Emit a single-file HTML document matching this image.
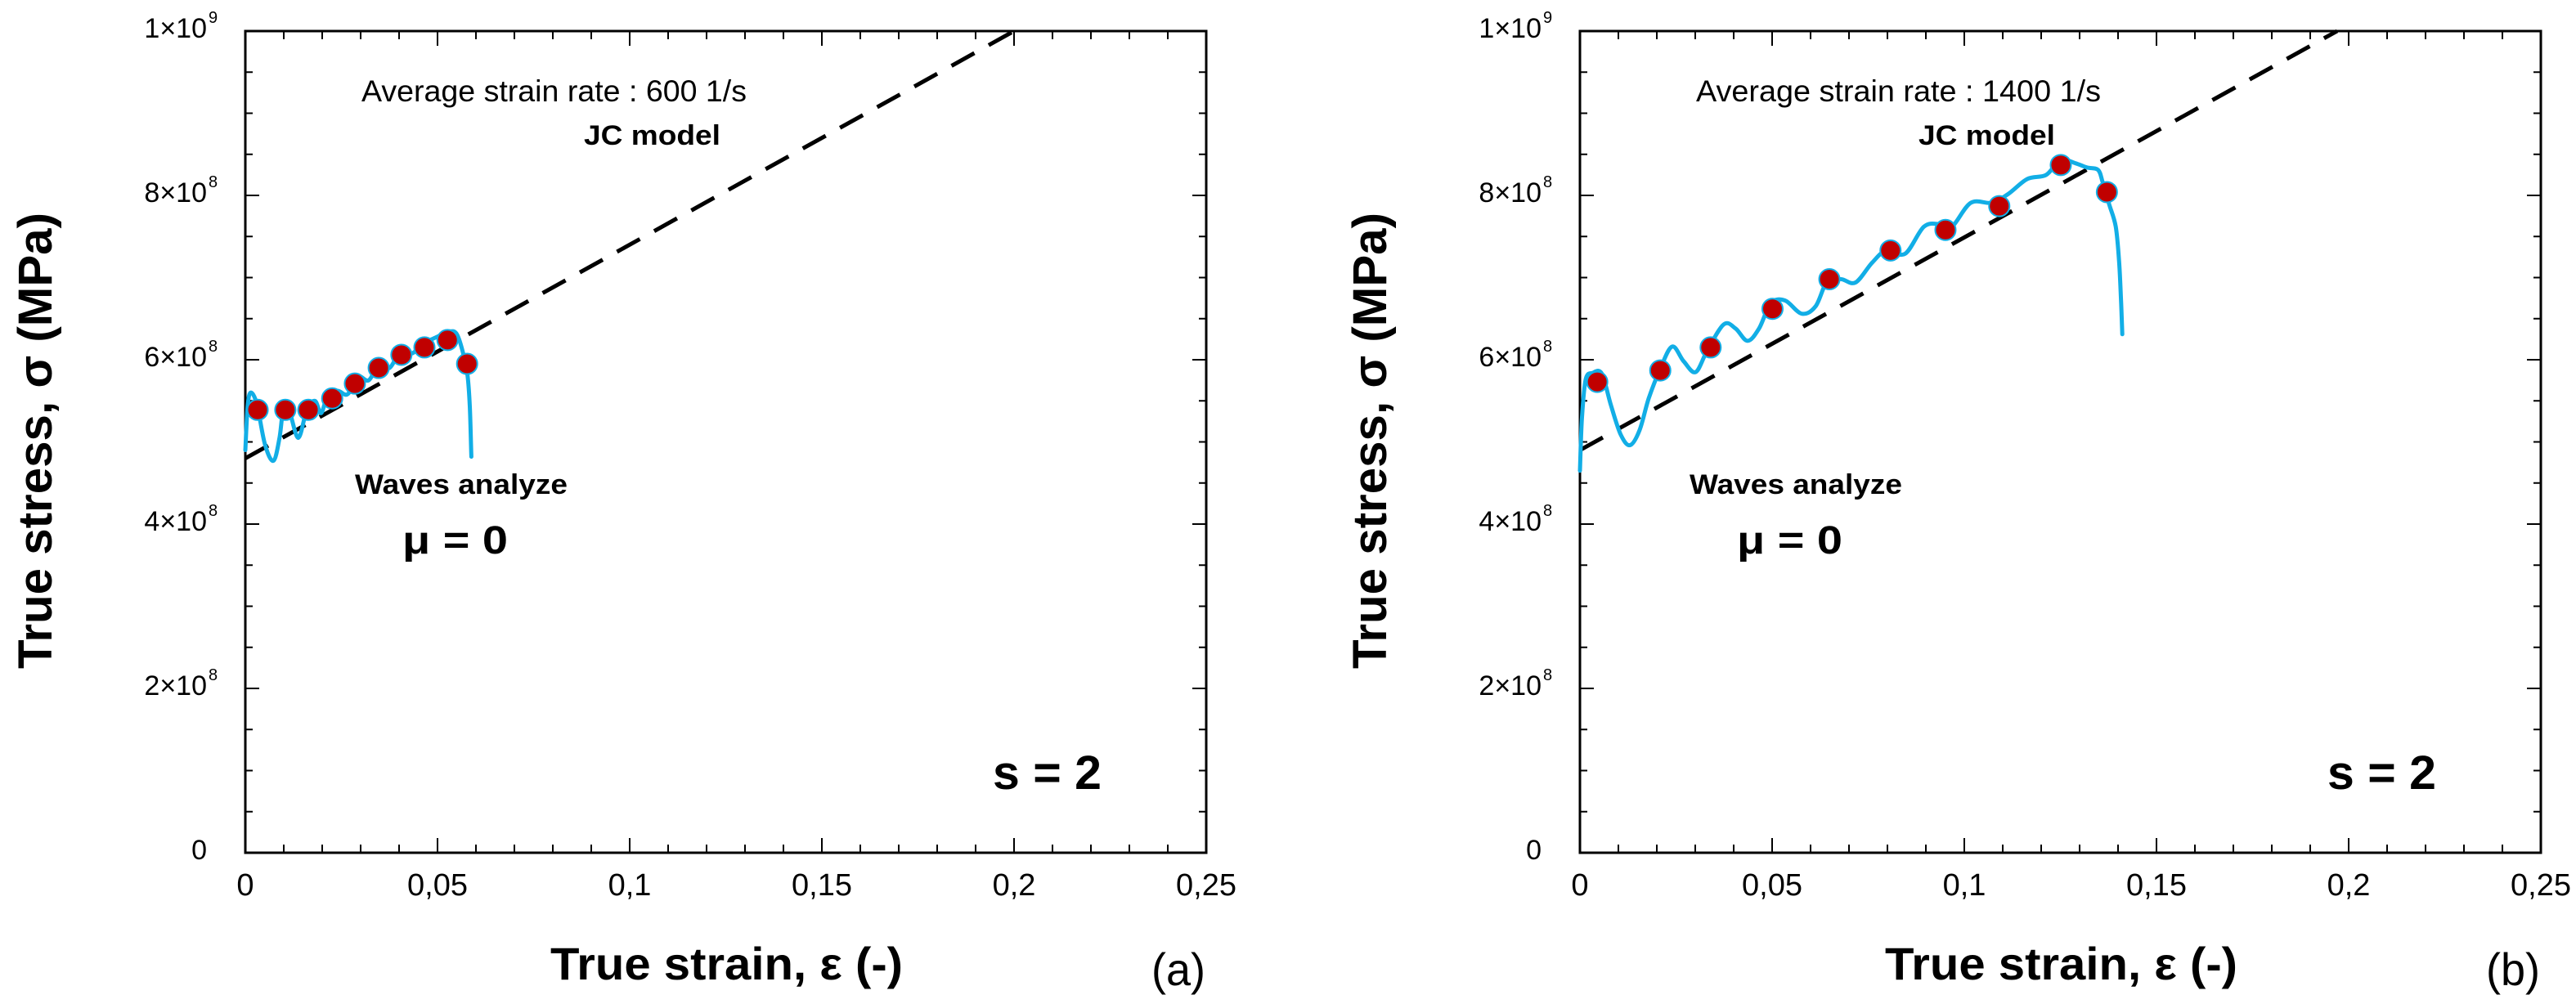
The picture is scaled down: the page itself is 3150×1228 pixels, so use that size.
<!DOCTYPE html>
<html><head><meta charset="utf-8"><style>
html,body{margin:0;padding:0;background:#fff;}
svg{display:block;}
text{font-family:"Liberation Sans Narrow","Liberation Sans",sans-serif;fill:#000;}
</style></head><body>
<svg id="fig" width="3150" height="1228" viewBox="0 0 3150 1228" xmlns="http://www.w3.org/2000/svg"></svg>
<script>
// ---- data (panel a: 600 1/s) ----
const curveAStrain=[0,0.0006,0.0014,0.003,0.0051,0.0073,0.0089,0.0100,0.0116,0.0138,0.0160,0.0181,0.0197,0.0213,0.024,0.0266,0.0294,0.0321,0.0348,0.0375,0.0402,0.0435,0.046,0.0495,0.0528,0.0549,0.0565,0.0578,0.0584,0.0588];
const curveAStress=[4.90e8,5.43e8,5.60e8,5.46e8,4.97e8,4.77e8,5.05e8,5.43e8,5.35e8,5.05e8,5.39e8,5.50e8,5.35e8,5.54e8,5.62e8,5.58e8,5.79e8,5.75e8,5.94e8,5.90e8,6.08e8,6.08e8,6.19e8,6.27e8,6.34e8,6.32e8,6.11e8,5.81e8,5.43e8,4.82e8];
const markAStrain=[0.0032,0.0104,0.0164,0.0226,0.0285,0.0347,0.0406,0.0466,0.0526,0.0577];
const markAStress=[5.39e8,5.39e8,5.39e8,5.53e8,5.71e8,5.90e8,6.06e8,6.15e8,6.24e8,5.95e8];
const jcAStrain=[0,0.2];
const jcAStress=[4.8e8,1.0e9];
// ---- data (panel b: 1400 1/s) ----
const curveBStrain=[0,0.0005,0.0015,0.0033,0.0057,0.0081,0.0106,0.013,0.0155,0.0179,0.0209,0.024,0.027,0.0301,0.0331,0.0374,0.0405,0.0436,0.0466,0.0497,0.0534,0.0577,0.0613,0.0644,0.068,0.0717,0.076,0.0797,0.0846,0.0895,0.0937,0.0968,0.1017,0.1072,0.1115,0.1164,0.1213,0.125,0.129,0.1319,0.1348,0.136,0.1377,0.1394,0.1403,0.1408,0.1411];
const curveBStress=[4.65e8,5.27e8,5.76e8,5.84e8,5.83e8,5.44e8,5.09e8,4.96e8,5.14e8,5.53e8,5.89e8,6.16e8,5.98e8,5.85e8,6.11e8,6.43e8,6.38e8,6.23e8,6.38e8,6.69e8,6.72e8,6.56e8,6.65e8,6.96e8,6.98e8,6.94e8,7.18e8,7.33e8,7.29e8,7.62e8,7.65e8,7.62e8,7.91e8,7.91e8,8.02e8,8.20e8,8.25e8,8.43e8,8.39e8,8.34e8,8.31e8,8.16e8,7.89e8,7.62e8,7.18e8,6.69e8,6.31e8];
const markBStrain=[0.0045,0.0209,0.034,0.0501,0.0649,0.0808,0.0951,0.1091,0.1251,0.1371];
const markBStress=[5.73e8,5.87e8,6.15e8,6.62e8,6.98e8,7.33e8,7.58e8,7.87e8,8.37e8,8.04e8];
const jcBStrain=[0,0.197];
const jcBStress=[4.9e8,1.0e9];
// ---- axes ----
const xTickValues=[0,0.05,0.1,0.15,0.2,0.25];
const xTickLabels=["0","0,05","0,1","0,15","0,2","0,25"];
const yTickValues=[0,2e8,4e8,6e8,8e8,1e9];
const yTickMain=["0","2×10","4×10","6×10","8×10","1×10"];
const yTickExp=["","8","8","8","8","9"];

const NS="http://www.w3.org/2000/svg";
const svg=document.getElementById('fig');
function mk(tag,attrs,parent){const e=document.createElementNS(NS,tag);for(const k in attrs)e.setAttribute(k,attrs[k]);(parent||svg).appendChild(e);return e;}

function smoothPath(pts){
  let d='M'+pts[0][0].toFixed(1)+' '+pts[0][1].toFixed(1);
  for(let i=0;i<pts.length-1;i++){
    const p0=pts[Math.max(0,i-1)],p1=pts[i],p2=pts[i+1],p3=pts[Math.min(pts.length-1,i+2)];
    const c1x=p1[0]+(p2[0]-p0[0])/6,c1y=p1[1]+(p2[1]-p0[1])/6;
    const c2x=p2[0]-(p3[0]-p1[0])/6,c2y=p2[1]-(p3[1]-p1[1])/6;
    d+=' C'+c1x.toFixed(1)+' '+c1y.toFixed(1)+' '+c2x.toFixed(1)+' '+c2y.toFixed(1)+' '+p2[0].toFixed(1)+' '+p2[1].toFixed(1);
  }
  return d;
}

function panel(id,dx,cs,cst,ms,mst,js,jst,rateText,rateW,letter){
  const L=300+dx,R=1475+dx,T=38,B=1043;
  const xs=v=>L+(v/0.25)*(R-L);
  const ys=v=>B-(v/1e9)*(B-T);
  const g=mk('g',{});
  
  
  for(let i=0;i<=25;i++){
    const x=xs(i*0.01);const len=(i%5===0)?18:10;
    mk('line',{x1:x,y1:B,x2:x,y2:B-len,stroke:'#000','stroke-width':2},g);
    mk('line',{x1:x,y1:T,x2:x,y2:T+len,stroke:'#000','stroke-width':2},g);
  }
  for(let i=0;i<=20;i++){
    const y=ys(i*5e7);const len=(i%4===0)?17:9;
    mk('line',{x1:L,y1:y,x2:L+len,y2:y,stroke:'#000','stroke-width':2},g);
    mk('line',{x1:R,y1:y,x2:R-len,y2:y,stroke:'#000','stroke-width':2},g);
  }
  const frame=mk('rect',{x:L,y:T,width:R-L,height:B-T,fill:'none',stroke:'#000','stroke-width':3},g);
  
  
  xTickValues.forEach((v,i)=>{
    const t=mk('text',{x:xs(v),y:1095,'font-size':38,'text-anchor':'middle'},g);
    
    
    t.textContent=xTickLabels[i];
  });
  yTickValues.forEach((v,i)=>{
    const y=ys(v);
    const t=mk('text',{x:253+dx,y:y+8,'font-size':34,'text-anchor':'end'},g);
    
    
    t.textContent=yTickMain[i];
    if(yTickExp[i]){const s=mk('text',{x:255+dx,y:y-10,'font-size':20},g);
      
      
      s.textContent=yTickExp[i];}
  });
  const jc=mk('line',{x1:xs(js[0]),y1:ys(jst[0]),x2:xs(js[1]),y2:ys(jst[1]),stroke:'#000','stroke-width':5,'stroke-dasharray':'32 20'},g);
  
  
  const pts=cs.map((v,i)=>[xs(v),ys(cst[i])]);
  const p=mk('path',{d:smoothPath(pts),fill:'none',stroke:'#12aee6','stroke-width':5,'stroke-linejoin':'round','stroke-linecap':'round'},g);
  
  
  ms.forEach((v,i)=>{
    const c=mk('circle',{cx:xs(v),cy:ys(mst[i]),r:12.5,fill:'#c00000',stroke:'#12aee6','stroke-width':2},g);
    
    
  });
  function txt(name,s,x,y,size,w,bold){
    const t=mk('text',{x:x,y:y,'font-size':size,textLength:w,lengthAdjust:'spacingAndGlyphs','font-weight':bold?'bold':'normal'},g);
    
    
    t.textContent=s;return t;
  }
  txt('strain-rate-label',rateText,442+dx,124,37,rateW,false).style.fontFamily='"Liberation Sans",sans-serif';
  txt('jc-model-label','JC model',714+dx,177,34,167,true).style.fontFamily='"Liberation Sans",sans-serif';
  txt('waves-analyze-label','Waves analyze',434+dx,604,34,260,true);
  txt('mu-label','μ = 0',492+dx,677,48,129,true).style.fontFamily='"Liberation Sans",sans-serif';
  txt('s-label','s = 2',1214+dx,965,58,133,true);
  txt('x-axis-title','True strain, ε (-)',673+dx,1198,56,431,true);
  txt('panel-letter','('+letter+')',1408+dx,1205,56,66,false);
  const yt=mk('text',{x:0,y:0,'font-size':58,'font-weight':'bold','text-anchor':'middle',transform:'translate('+(63+dx)+',539) rotate(-90)',textLength:558,lengthAdjust:'spacingAndGlyphs'},g);
  
  
  yt.style.fontFamily='"Liberation Sans",sans-serif';
  yt.textContent='True stress, σ (MPa)';
}
panel('a',0,curveAStrain,curveAStress,markAStrain,markAStress,jcAStrain,jcAStress,'Average strain rate : 600 1/s',471,'a');
panel('b',1632,curveBStrain,curveBStress,markBStrain,markBStress,jcBStrain,jcBStress,'Average strain rate : 1400 1/s',495,'b');
</script>
</body></html>
